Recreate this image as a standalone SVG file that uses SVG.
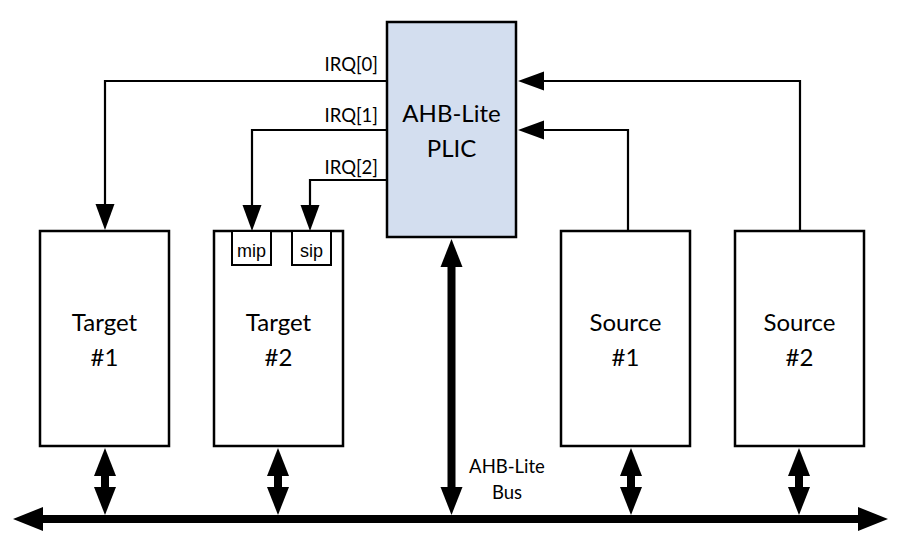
<svg xmlns="http://www.w3.org/2000/svg" width="920" height="544" viewBox="0 0 920 544">
<style>
.box{fill:#fff;stroke:#000;stroke-width:2.5}
.plic{fill:#D3DEEF;stroke:#000;stroke-width:2.5}
.reg{fill:#fff;stroke:#000;stroke-width:2}
.big{font-family:Lato,"Open Sans",sans-serif;font-size:24px;text-anchor:middle;fill:#000}
.lbl{font-family:Lato,"Open Sans",sans-serif;font-size:18.5px;fill:#000}
.regt{font-family:"Liberation Sans",Arial,sans-serif;font-size:18px;text-anchor:middle;fill:#000}
.thin{fill:none;stroke:#000;stroke-width:2.2}
.thick{fill:none;stroke:#000;stroke-width:8}
</style>
<defs>
<marker id="ah" markerUnits="userSpaceOnUse" markerWidth="26" markerHeight="20" viewBox="0 -10 26 20" refX="0" refY="0" orient="auto">
<path d="M0,-9.5 L26,0 L0,9.5 z" fill="#000"/>
</marker>
<marker id="tk" markerUnits="userSpaceOnUse" markerWidth="28" markerHeight="24" viewBox="0 -12 28 24" refX="0" refY="0" orient="auto-start-reverse">
<path d="M0,-11 L28,0 L0,11 z" fill="#000"/>
</marker>
<marker id="bus" markerUnits="userSpaceOnUse" markerWidth="30" markerHeight="26" viewBox="0 -13 30 26" refX="0" refY="0" orient="auto-start-reverse">
<path d="M0,-12 L30,0 L0,12 z" fill="#000"/>
</marker>
</defs>
<g id="connectors">
<path class="thin" d="M387,81 H105 V204" marker-end="url(#ah)"/>
<path class="thin" d="M387,130 H252 V205" marker-end="url(#ah)"/>
<path class="thin" d="M387,180 H310 V205" marker-end="url(#ah)"/>
<path class="thin" d="M628,231 V130 H544" marker-end="url(#ah)"/>
<path class="thin" d="M800,231 V81 H544" marker-end="url(#ah)"/>
<line class="thick" x1="43" y1="519" x2="858" y2="519" marker-start="url(#bus)" marker-end="url(#bus)"/>
<line class="thick" x1="451.5" y1="267" x2="451.5" y2="487" marker-start="url(#tk)" marker-end="url(#tk)"/>
<line class="thick" x1="105" y1="476" x2="105" y2="487" marker-start="url(#tk)" marker-end="url(#tk)"/>
<line class="thick" x1="278" y1="476" x2="278" y2="487" marker-start="url(#tk)" marker-end="url(#tk)"/>
<line class="thick" x1="631" y1="476" x2="631" y2="487" marker-start="url(#tk)" marker-end="url(#tk)"/>
<line class="thick" x1="799" y1="476" x2="799" y2="487" marker-start="url(#tk)" marker-end="url(#tk)"/>
<text class="lbl" x="378" y="71" text-anchor="end">IRQ[0]</text>
<text class="lbl" x="378" y="122" text-anchor="end">IRQ[1]</text>
<text class="lbl" x="378" y="174" text-anchor="end">IRQ[2]</text>
<text class="lbl" x="507" y="473" text-anchor="middle">AHB-Lite</text>
<text class="lbl" x="507" y="499" text-anchor="middle">Bus</text>
</g>
<g id="plic">
<rect class="plic" x="387" y="22" width="129" height="215"/>
<text class="big" x="451.5" y="122">AHB-Lite</text>
<text class="big" x="451.5" y="157">PLIC</text>
</g>
<g id="target1">
<rect class="box" x="40" y="231" width="129" height="215"/>
<text class="big" x="104.5" y="331">Target</text>
<text class="big" x="104.5" y="366">#1</text>
</g>
<g id="target2">
<rect class="box" x="214" y="231" width="129" height="215"/>
<text class="big" x="278.5" y="331">Target</text>
<text class="big" x="278.5" y="366">#2</text>
<g id="mip">
<rect class="reg" x="232" y="231" width="39" height="34"/>
<text class="regt" x="251.5" y="257">mip</text>
</g>
<g id="sip">
<rect class="reg" x="292" y="231" width="39" height="34"/>
<text class="regt" x="311.5" y="257">sip</text>
</g>
</g>
<g id="source1">
<rect class="box" x="561" y="231" width="129" height="215"/>
<text class="big" x="625.5" y="331">Source</text>
<text class="big" x="625.5" y="366">#1</text>
</g>
<g id="source2">
<rect class="box" x="735" y="231" width="129" height="215"/>
<text class="big" x="799.5" y="331">Source</text>
<text class="big" x="799.5" y="366">#2</text>
</g>
</svg>
